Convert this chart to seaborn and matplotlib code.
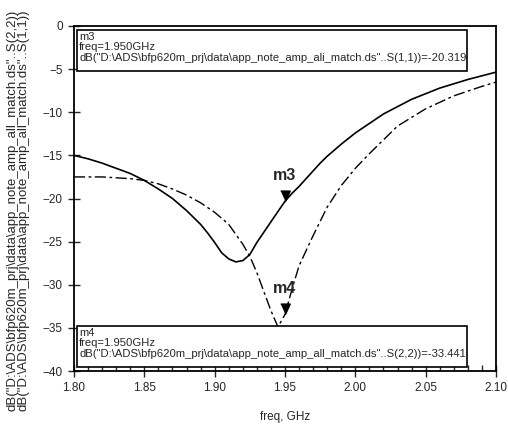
import numpy as np
import matplotlib
matplotlib.use("Agg")
import matplotlib.pyplot as plt
from matplotlib.ticker import MultipleLocator
import seaborn as sns

# S(1,1), solid line
freq_s11 = [1.80, 1.81, 1.82, 1.83, 1.84, 1.85, 1.86, 1.87, 1.88, 1.89, 1.895, 1.90,
            1.905, 1.91, 1.915, 1.92, 1.925, 1.93, 1.94, 1.95, 1.955, 1.96, 1.965,
            1.97, 1.975, 1.98, 1.99, 2.00, 2.02, 2.04, 2.06, 2.08, 2.10]
s11_db = [-15.0, -15.4, -15.9, -16.5, -17.1, -17.9, -18.9, -20.0, -21.4, -23.0, -24.0, -25.1,
          -26.3, -27.0, -27.35, -27.2, -26.5, -25.1, -22.7, -20.319, -19.4, -18.6, -17.7,
          -16.8, -15.9, -15.1, -13.7, -12.4, -10.2, -8.5, -7.2, -6.2, -5.35]

# S(2,2), dash-dot line
freq_s22 = [1.80, 1.82, 1.84, 1.85, 1.86, 1.87, 1.88, 1.89, 1.90, 1.91, 1.92,
            1.925, 1.93, 1.94, 1.945, 1.95, 1.955, 1.96, 1.97, 1.98, 1.99, 2.00,
            2.01, 2.03, 2.05, 2.07, 2.09, 2.10]
s22_db = [-17.5, -17.5, -17.7, -17.9, -18.3, -18.9, -19.6, -20.5, -21.6, -23.0, -25.3,
          -26.7, -28.6, -33.0, -34.9, -33.441, -30.5, -27.8, -24.3, -21.0, -18.5, -16.5,
          -14.8, -11.6, -9.6, -8.1, -7.0, -6.5]

x_ticks = [1.80, 1.85, 1.90, 1.95, 2.00, 2.05, 2.10]
x_tick_labels = ["1.80", "1.85", "1.90", "1.95", "2.00", "2.05", "2.10"]
y_ticks = [0, -5, -10, -15, -20, -25, -30, -35, -40]

marker_freq = 1.95
m3_val = -20.319
m4_val = -33.441

path_s11 = 'dB("D:\\ADS\\bfp620m_prj\\data\\app_note_amp_all_match.ds"..S(1,1))'
path_s22 = 'dB("D:\\ADS\\bfp620m_prj\\data\\app_note_amp_all_match.ds"..S(2,2))'
m3_lines = ["m3", "freq=1.950GHz",
            'dB("D:\\ADS\\bfp620m_prj\\data\\app_note_amp_ali_match.ds"..S(1,1))=-20.319']
m4_lines = ["m4", "freq=1.950GHz",
            'dB("D:\\ADS\\bfp620m_prj\\data\\app_note_amp_all_match.ds"..S(2,2))=-33.441']

sns.set_style("ticks")
plt.rcParams['font.family'] = ['Liberation Sans', 'DejaVu Sans']

fig = plt.figure(figsize=(5.08, 4.30), dpi=100)
ax = fig.add_axes([74 / 508, 1 - 371 / 430, 422 / 508, 345 / 430])

sns.lineplot(x=freq_s11, y=s11_db, ax=ax, color="black", linewidth=1.2, sort=False)
sns.lineplot(x=freq_s22, y=s22_db, ax=ax, color="black", linewidth=1.0, sort=False,
             linestyle=(0, (8, 2.5, 2, 2.5)))

ax.set_xlim(1.80, 2.10)
ax.set_ylim(-40, 0)
ax.set_xticks(x_ticks)
ax.set_xticklabels(x_tick_labels)
ax.set_yticks(y_ticks)
ax.xaxis.set_minor_locator(MultipleLocator(0.01))
ax.tick_params(axis="x", which="major", direction="inout", length=8, width=1, labelsize=8.5, pad=4)
ax.tick_params(axis="x", which="minor", direction="in", length=4, width=1)
ax.tick_params(axis="y", which="major", direction="inout", length=8, width=1, labelsize=8.5, pad=4)
for sp in ax.spines.values():
    sp.set_visible(True)
    sp.set_linewidth(1.3)
    sp.set_color("black")

ax.set_xlabel("freq, GHz", fontsize=8.5, labelpad=12)
ax.set_ylabel(path_s22 + "\n" + path_s11, fontsize=9.5, linespacing=0.9)
ax.yaxis.set_label_coords(-0.106, 0.465)

# marker triangles (tip on the curve)
tri = [(-0.5, 1.1), (0.5, 1.1), (0.0, 0.0)]
for val, name in [(m3_val, "m3"), (m4_val, "m4")]:
    ax.plot([marker_freq], [val], marker=tri, markersize=15, color="black", linestyle="none")
    ax.annotate(name, xy=(marker_freq, val), xytext=(0, 13), textcoords="offset points",
                ha="center", va="bottom", fontsize=11.5, fontweight="bold")

# marker readout boxes
for lines, y0 in [(m3_lines, 0.870), (m4_lines, 0.012)]:
    ax.add_patch(plt.Rectangle((0.007, y0), 0.925, 0.118, transform=ax.transAxes,
                               facecolor="white", edgecolor="black", linewidth=1.2, zorder=5))
    ax.text(0.012, y0 + 0.114, "\n".join(lines), transform=ax.transAxes, fontsize=8.1,
            va="top", ha="left", linespacing=1.1, zorder=6)

fig.savefig("out.png", dpi=100)
